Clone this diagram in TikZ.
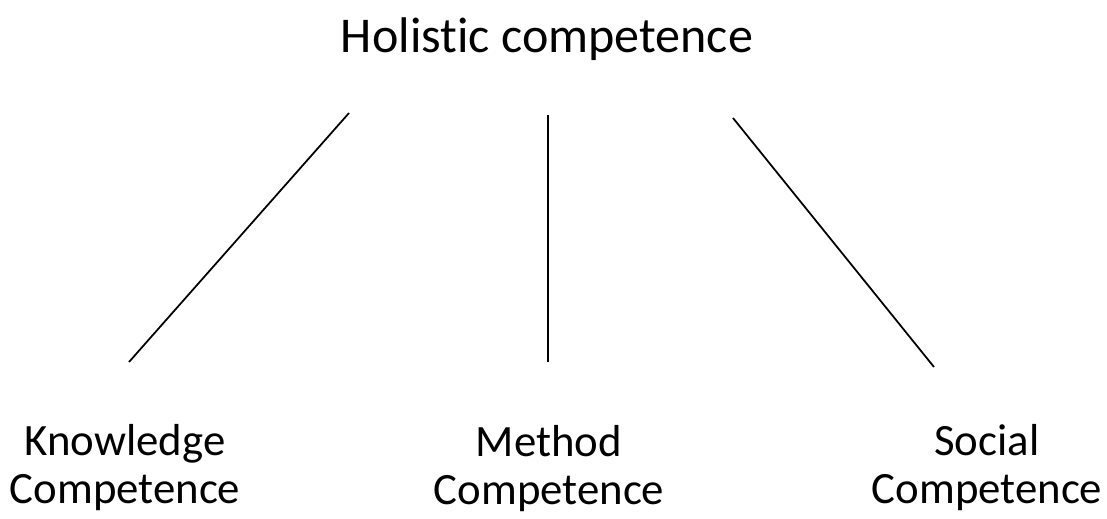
\documentclass[tikz,border=0pt]{standalone}
\usepackage{fontspec}
\setmainfont{Carlito}[Ligatures=NoCommon]
\usepackage{tikz}
\usetikzlibrary{positioning}
\tikzset{
    headlabel/.style={font=\fontsize{28.5}{34}\selectfont, inner sep=0pt, anchor=base},
    partlabel/.style={font=\fontsize{25.5}{27.2}\selectfont, align=center, inner sep=0pt, anchor=base},
    branch/.style={draw=black, line width=1pt},
}

\begin{document}
\begin{tikzpicture}[x=0.02cm, y=-0.02cm]
\useasboundingbox (0,0) rectangle (1107,518);
% \draw[step=50, very thin, gray] (0,0) grid (1107,518);
\node[headlabel] (holistic) at (547,52) {Holistic competence};
\node[partlabel] (knowledge) at (125,503) {Knowledge\\Competence};
\node[partlabel] (method) at (549,504) {Method\\Competence};
\node[partlabel] (social) at (987,503) {Social\\Competence};
\coordinate (kTop) at (349,113);
\coordinate (kBot) at (129,362);
\coordinate (mTop) at (548,115);
\coordinate (mBot) at (548,362);
\coordinate (sTop) at (733,118);
\coordinate (sBot) at (934,367);
\draw[branch] (kTop) -- (kBot);
\draw[branch] (mTop) -- (mBot);
\draw[branch] (sTop) -- (sBot);
\end{tikzpicture}
\end{document}
